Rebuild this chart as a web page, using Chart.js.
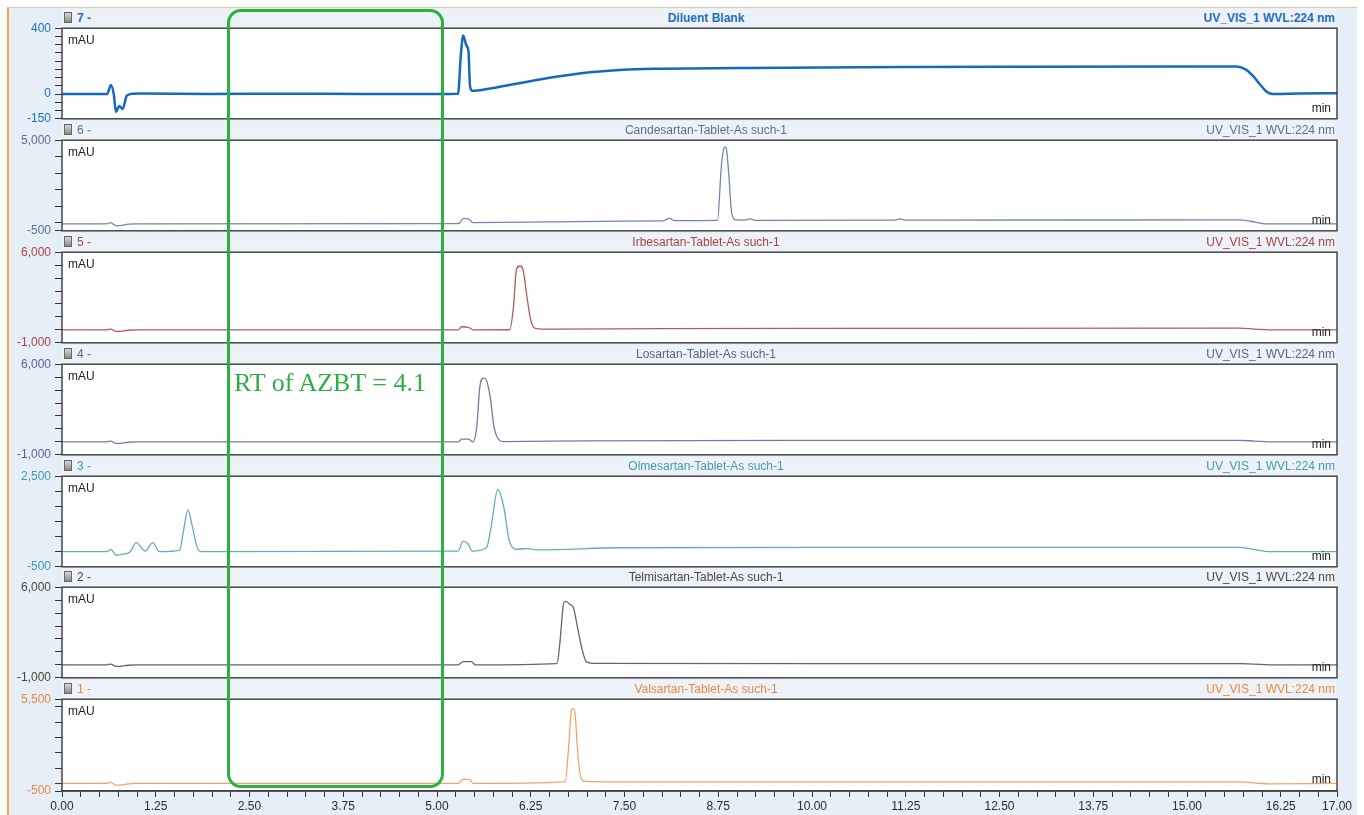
<!DOCTYPE html>
<html>
<head>
<meta charset="utf-8">
<script src="https://cdn.jsdelivr.net/npm/chart.js@4.4.0/dist/chart.umd.min.js"></script>
<style>
  html, body { margin: 0; padding: 0; background: #fff; width: 1364px; height: 815px; overflow: hidden; font-family: 'Liberation Sans', Arial, sans-serif; }
  #frame { position: absolute; left: 7px; top: 7px; width: 1350px; height: 808px; background: #e6eef8; border-left: 2px solid #f2a64a; border-top: 1px solid #e3c9a4; box-sizing: border-box; }
  .strip { position: absolute; left: 62px; width: 1275px; height: 18px; background: #edf2f9; font-size: 12px; line-height: 18px; }
  .strip .icon { position: absolute; left: 2px; top: 3px; width: 8px; height: 11px; border: 1px solid #666; background: linear-gradient(#d8d8d8, #8a8a8a); box-sizing: border-box; }
  .strip .num { position: absolute; left: 15px; top: 0; }
  .strip .title { position: absolute; left: 6px; width: 1276px; top: 0; text-align: center; }
  .strip .wvl { position: absolute; right: 2px; top: 0; }
  .unit { position: absolute; left: 68px; font-size: 12px; color: #222; line-height: 14px; z-index: 5; }
  .min { position: absolute; left: 1300px; width: 31px; text-align: right; font-size: 12px; color: #222; line-height: 14px; z-index: 5; }
  canvas { position: absolute; left: 0; }
  #rt { position: absolute; left: 227px; top: 9px; width: 217px; height: 779px; border: 3px solid #2bb13e; border-radius: 14px; box-sizing: border-box; pointer-events: none; z-index: 10; }
  #rtText { position: absolute; left: 234px; top: 370px; font-family: 'Liberation Serif', 'Times New Roman', serif; font-size: 26px; line-height: 26px; color: #2fae47; white-space: nowrap; z-index: 10; }
</style>
</head>
<body>
<div id="frame"></div>
<div id="rt"></div>
<div id="rtText">RT of AZBT = 4.1</div>
<script>
// retention time axis (min)
const timeLabels = ['0.00', '1.25', '2.50', '3.75', '5.00', '6.25', '7.50', '8.75', '10.00', '11.25', '12.50', '13.75', '15.00', '16.25', '17.00'];
const timeMinorStep = 0.25;

// traces as [min, mAU]
const diluentBlank = [[0, 0], [0.6, 0], [0.653, 55], [0.69, 0], [0.72, -108], [0.764, -72], [0.809, -90], [0.863, -10], [0.95, 2], [1.04, 3], [2.0, 1], [3.0, 2], [4.0, 1], [5.0, 1], [5.28, 2], [5.32, 250], [5.35, 356], [5.39, 297], [5.42, 257], [5.44, 50], [5.47, 20], [5.71, 34], [6.37, 89], [7.04, 132], [7.48, 148], [7.93, 154], [9.04, 158], [11.17, 164], [13.0, 166], [15.0, 167], [15.66, 167], [15.78, 150], [15.88, 110], [15.98, 55], [16.06, 15], [16.15, 0], [16.5, 3], [17, 5]];
const candesartan = [[0, -80], [0.6, -80], [0.65, 0], [0.7, -150], [0.73, -200], [0.82, -160], [0.88, -90], [1.0, -80], [5.25, -70], [5.3, -40], [5.35, 260], [5.42, 220], [5.48, 0], [6.5, 40], [7.5, 90], [8.01, 100], [8.1, 260], [8.17, 115], [8.74, 130], [8.79, 3345], [8.82, 4445], [8.84, 4600], [8.86, 4445], [8.89, 2950], [8.93, 560], [8.99, 160], [9.1, 150], [9.17, 220], [9.25, 130], [11.1, 150], [11.17, 220], [11.25, 150], [15.7, 160], [15.85, 80], [16.05, -80], [17, -80]];
const irbesartan = [[0, 0], [0.6, 0], [0.65, 60], [0.72, -120], [0.8, -100], [0.88, -30], [1.0, 0], [5.28, 0], [5.33, 240], [5.42, 200], [5.48, 0], [5.97, 10], [6.02, 1790], [6.06, 4710], [6.11, 4935], [6.15, 4555], [6.2, 2525], [6.25, 750], [6.31, 120], [6.55, 50], [8.0, 100], [10.1, 120], [15.7, 130], [15.9, 60], [16.1, 0], [17, 0]];
const losartan = [[0, 0], [0.6, 0], [0.65, 60], [0.72, -120], [0.8, -100], [0.88, -30], [1.0, 0], [5.28, 0], [5.33, 218], [5.42, 218], [5.48, 0], [5.53, 1150], [5.57, 4190], [5.62, 4950], [5.66, 4750], [5.71, 3430], [5.76, 1150], [5.82, 190], [5.88, 20], [7.0, 80], [10.1, 115], [15.7, 120], [15.9, 60], [16.1, 0], [17, 0]];
const olmesartan = [[0, 0], [0.6, 0], [0.65, 80], [0.72, -110], [0.8, -90], [0.91, 0], [0.99, 300], [1.11, 20], [1.21, 300], [1.3, 0], [1.57, 50], [1.62, 700], [1.68, 1385], [1.73, 920], [1.8, 160], [1.86, 0], [5.28, 20], [5.35, 350], [5.41, 270], [5.47, 20], [5.66, 130], [5.72, 800], [5.81, 2060], [5.89, 1480], [5.96, 400], [6.05, 80], [6.2, 100], [6.37, 60], [7.44, 130], [10.0, 140], [15.7, 140], [15.9, 70], [16.1, 0], [17, 0]];
const telmisartan = [[0, 0], [0.6, 0], [0.65, 60], [0.72, -120], [0.8, -100], [0.88, -30], [1.0, 0], [5.28, 0], [5.35, 250], [5.46, 250], [5.51, 0], [6.6, 100], [6.64, 1800], [6.69, 4800], [6.72, 4900], [6.77, 4680], [6.82, 4420], [6.86, 3300], [6.93, 1300], [6.99, 250], [7.08, 120], [10.0, 100], [15.7, 100], [15.9, 50], [16.1, 0], [17, 0]];
const valsartan = [[0, 0], [0.6, 0], [0.65, 60], [0.72, -120], [0.8, -100], [0.88, -30], [1.0, 0], [5.28, 0], [5.35, 270], [5.44, 250], [5.48, 0], [6.71, 100], [6.75, 2030], [6.79, 4700], [6.81, 4880], [6.84, 4600], [6.87, 2460], [6.91, 530], [6.96, 140], [7.2, 100], [15.7, 100], [15.9, 30], [16.1, -30], [17, 0]];

// y ticks (mAU) and which ones carry a label
const blankTicks = [400, 350, 300, 250, 200, 150, 100, 50, 0, -50, -100, -150];
const blankLabels = [400, 0, -150];
const candTicks = [5000, 4000, 3000, 2000, 1000, 0, -500];
const candLabels = [5000, -500];
const bigTicks = [6000, 5000, 4000, 3000, 2000, 1000, 0, -1000];
const bigLabels = [6000, -1000];
const olmTicks = [2500, 2000, 1500, 1000, 500, 0, -500];
const olmLabels = [2500, -500];
const valTicks = [5500, 5000, 4000, 3000, 2000, 1000, 0, -500];
const valLabels = [5500, -500];

const panels = [
  { num: '7 -', title: 'Diluent Blank', data: diluentBlank, min: -150, max: 400, ticks: blankTicks, labels: blankLabels, line: '#1769c0', text: '#1f6fbf', width: 2.5, bold: true },
  { num: '6 -', title: 'Candesartan-Tablet-As such-1', data: candesartan, min: -500, max: 5000, ticks: candTicks, labels: candLabels, line: '#7087ad', text: '#5b6f93', width: 1.3 },
  { num: '5 -', title: 'Irbesartan-Tablet-As such-1', data: irbesartan, min: -1000, max: 6000, ticks: bigTicks, labels: bigLabels, line: '#b35b5b', text: '#a8443f', width: 1.3 },
  { num: '4 -', title: 'Losartan-Tablet-As such-1', data: losartan, min: -1000, max: 6000, ticks: bigTicks, labels: bigLabels, line: '#7b78a6', text: '#5f5f8c', width: 1.3 },
  { num: '3 -', title: 'Olmesartan-Tablet-As such-1', data: olmesartan, min: -500, max: 2500, ticks: olmTicks, labels: olmLabels, line: '#62adbd', text: '#3f9bb0', width: 1.3 },
  { num: '2 -', title: 'Telmisartan-Tablet-As such-1', data: telmisartan, min: -1000, max: 6000, ticks: bigTicks, labels: bigLabels, line: '#66665a', text: '#4a463c', width: 1.3 },
  { num: '1 -', title: 'Valsartan-Tablet-As such-1', data: valsartan, min: -500, max: 5500, ticks: valTicks, labels: valLabels, line: '#f4a467', text: '#ec8a3c', width: 1.3 }
];

const plotTops = [27, 139, 251, 363, 475, 586, 698];
const plotH = 93;

const framePlugin = {
  id: 'frame',
  beforeDraw(chart) {
    const a = chart.chartArea, ctx = chart.ctx;
    ctx.save();
    ctx.fillStyle = '#fff';
    ctx.fillRect(a.left, a.top, a.right - a.left, a.bottom - a.top);
    ctx.restore();
  },
  afterDraw(chart) {
    const a = chart.chartArea, ctx = chart.ctx;
    ctx.save();
    ctx.strokeStyle = '#474747';
    ctx.lineWidth = 1.5;
    ctx.strokeRect(a.left, a.top, a.right - a.left, a.bottom - a.top);
    ctx.restore();
  }
};

const fmtTime = v => v.toFixed(2);

panels.forEach((p, i) => {
  const top = plotTops[i];
  const last = i === panels.length - 1;
  const padTop = 10;
  const padBottom = last ? 0 : 10;
  const xAxisH = last ? 26 : 0;

  // header strip
  const strip = document.createElement('div');
  strip.className = 'strip';
  strip.style.top = (top - 18) + 'px';
  strip.style.color = p.text;
  if (p.bold) strip.style.fontWeight = 'bold';
  strip.innerHTML = '<div class="icon"></div><span class="num">' + p.num + '</span>' +
    '<div class="title">' + p.title + '</div><span class="wvl">UV_VIS_1 WVL:224 nm</span>';
  document.body.appendChild(strip);

  const cv = document.createElement('canvas');
  cv.width = 1364;
  cv.height = padTop + plotH + xAxisH + padBottom;
  cv.style.top = (top - padTop) + 'px';
  document.body.appendChild(cv);

  const unit = document.createElement('div');
  unit.className = 'unit';
  unit.style.top = (top + 6) + 'px';
  unit.textContent = 'mAU';
  document.body.appendChild(unit);

  const mn = document.createElement('div');
  mn.className = 'min';
  mn.style.top = (top + plotH - 19) + 'px';
  mn.textContent = 'min';
  document.body.appendChild(mn);

  new Chart(cv, {
    type: 'line',
    data: {
      datasets: [{
        data: p.data.map(([x, y]) => ({ x: x, y: y })),
        borderColor: p.line,
        borderWidth: p.width,
        pointRadius: 0,
        cubicInterpolationMode: 'monotone',
        fill: false
      }]
    },
    options: {
      responsive: false,
      animation: false,
      devicePixelRatio: 1,
      layout: { padding: { left: 0, right: 27, top: padTop, bottom: padBottom } },
      plugins: { legend: { display: false }, tooltip: { enabled: false } },
      scales: {
        x: {
          type: 'linear',
          min: 0,
          max: 17,
          display: last,
          afterBuildTicks: s => {
            const t = [];
            for (let v = 0; v <= 17.0001; v += timeMinorStep) t.push({ value: Math.round(v * 100) / 100 });
            s.ticks = t;
          },
          afterFit: s => { s.height = xAxisH; },
          ticks: {
            autoSkip: false,
            maxRotation: 0,
            minRotation: 0,
            color: '#2b2b2b',
            padding: 2,
            font: { family: "'Liberation Sans', Arial, sans-serif", size: 12 },
            callback: v => timeLabels.includes(fmtTime(v)) ? fmtTime(v) : ''
          },
          grid: { drawOnChartArea: false, tickLength: 6, tickColor: '#333' },
          border: { color: '#333', width: 1.5 }
        },
        y: {
          min: p.min,
          max: p.max,
          afterFit: s => { s.width = 62; },
          afterBuildTicks: s => { s.ticks = p.ticks.map(v => ({ value: v })); },
          ticks: {
            autoSkip: false,
            color: p.text,
            padding: 4,
            font: { family: "'Liberation Sans', Arial, sans-serif", size: 12 },
            callback: v => p.labels.includes(v) ? v.toLocaleString('en-US') : ''
          },
          grid: { drawOnChartArea: false, tickLength: 7, tickColor: '#333' },
          border: { display: false }
        }
      }
    },
    plugins: [framePlugin]
  });
});
</script>
</body>
</html>
